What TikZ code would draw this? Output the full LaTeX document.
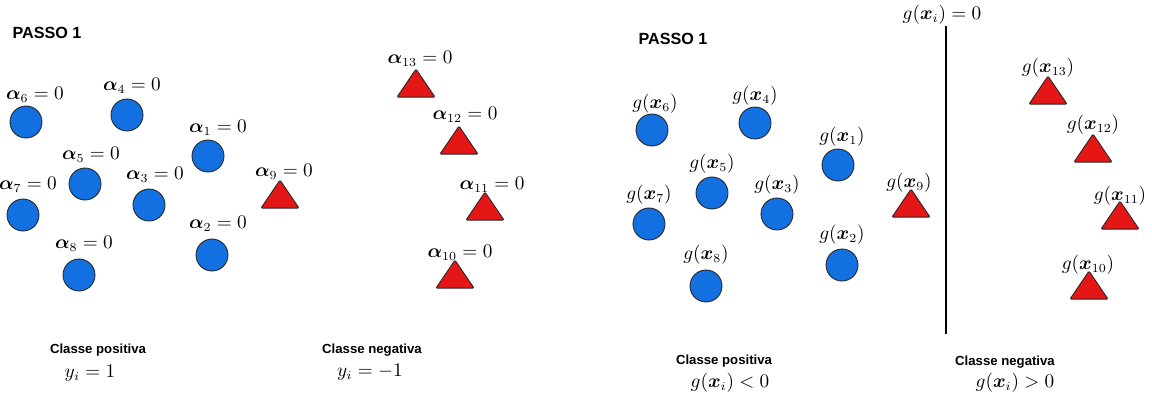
\documentclass[tikz,border=0pt]{standalone}
\usepackage{fontspec}
\usepackage{amsmath,bm}
\newfontfamily\titlefont{Liberation Sans}
\usetikzlibrary{shapes.geometric, positioning}

\definecolor{posblue}{RGB}{18,112,224}
\definecolor{negred}{RGB}{228,22,22}

\begin{document}
\begin{tikzpicture}[
    x=0.02cm, y=-0.02cm,
    every node/.style={font=\fontsize{10.5}{12}\selectfont},
    posdot/.style={circle, draw=black!85, fill=posblue, line width=0.5pt, minimum size=0.64cm, inner sep=0pt},
    negtri/.style={isosceles triangle, isosceles triangle stretches, shape border rotate=90, draw=black!85, fill=negred, line width=0.5pt, minimum width=0.76cm, minimum height=0.56cm, inner sep=0pt, rounded corners=0.6pt},
    title/.style={font=\titlefont\bfseries\fontsize{9.2}{11}\selectfont},
    classlbl/.style={font=\titlefont\bfseries\fontsize{7.5}{9}\selectfont}
]
\useasboundingbox (0,0) rectangle (1152,397);

% --- Passo 1: multiplicadores ---
\node (title1) [title] at (47,33) {PASSO 1};

\foreach \i/\x/\y/\lx/\ly in {6/26/122/35/95, 4/127/115/132/86, 1/208/156/218/128,
    5/85/184/91/155, 3/149/205/155/175, 7/23/215/28/185, 8/79/275/84/244, 2/212/255/218/224} {
  \node (a\i) [posdot] at (\x,\y) {};
  \node (la\i) at (\lx,\ly) {$\bm{\alpha}_{\i} = 0$};
}

\foreach \i/\x/\y/\lx/\ly in {9/280/198/284/172, 13/416/87/420/59, 12/459/144/465/115,
    11/485/210/492/185, 10/455/278/460/253} {
  \node (a\i) [negtri] at (\x,\y) {};
  \node (la\i) at (\lx,\ly) {$\bm{\alpha}_{\i} = 0$};
}

\node (pos1) [classlbl] at (98,350) {Classe positiva};
\node (ypos) at (90,373) {$y_i = 1$};
\node (neg1) [classlbl] at (372,350) {Classe negativa};
\node (yneg) at (370,372) {$y_i = -1$};

% --- Passo 1: funcao de decisao ---
\node (title2) [title] at (673,39) {PASSO 1};

\foreach \i/\x/\y/\lx/\ly in {6/652/130/655/104, 4/755/123/755/96, 1/838/165/842/137,
    5/712/193/712/164, 3/777/214/777/185, 7/649/224/649/195, 8/706/286/706/255, 2/842/265/842/235} {
  \node (g\i) [posdot] at (\x,\y) {};
  \node (lg\i) at (\lx,\ly) {$g(\bm{x}_{\i})$};
}

\foreach \i/\x/\y/\lx/\ly in {9/911/207/909/183, 13/1048/94/1048/68, 12/1093/152/1093/125,
    11/1120/219/1120/196, 10/1089/289/1088/265} {
  \node (g\i) [negtri] at (\x,\y) {};
  \node (lg\i) at (\lx,\ly) {$g(\bm{x}_{\i})$};
}

\coordinate (sep top) at (946,26);
\coordinate (sep bot) at (946,334);
\draw [line width=0.7pt] (sep top) -- (sep bot);
\node (sep lbl) at (942,15) {$g(\bm{x}_i) = 0$};

\node (pos2) [classlbl] at (724,361) {Classe positiva};
\node (gpos) at (730,383) {$g(\bm{x}_i) < 0$};
\node (neg2) [classlbl] at (1005,362) {Classe negativa};
\node (gneg) at (1015,383) {$g(\bm{x}_i) > 0$};

\end{tikzpicture}
\end{document}
